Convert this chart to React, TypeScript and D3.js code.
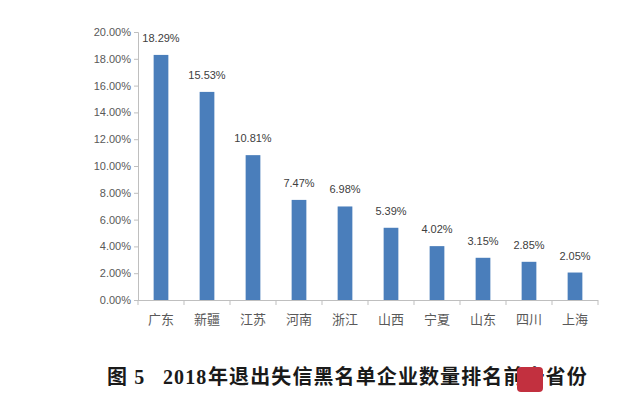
import React, { useEffect, useRef } from 'react';
import * as d3 from 'd3';

const provinces = ['广东', '新疆', '江苏', '河南', '浙江', '山西', '宁夏', '山东', '四川', '上海'];
const shares = [18.29, 15.53, 10.81, 7.47, 6.98, 5.39, 4.02, 3.15, 2.85, 2.05];
const yTicks = [0, 2, 4, 6, 8, 10, 12, 14, 16, 18, 20];
const captionParts = ['图 5', '2018', '年退出失信黑名单企业数量排名前十省份'];

const App = () => {
    const svgRef = useRef<SVGSVGElement>(null);

    useEffect(() => {
        const svg = d3.select(svgRef.current);
        svg.selectAll('*').remove();

        const W = 640;
        const H = 399;
        const left = 138, right = 598, top = 32, bottom = 300;

        svg.append('rect').attr('width', W).attr('height', H).attr('fill', '#fff');

        const x = d3.scaleBand().domain(provinces).range([left, right]).paddingInner(0.68).paddingOuter(0.34);
        const y = d3.scaleLinear().domain([0, 20]).range([bottom, top]);

        // y axis
        const yAxis = svg.append('g')
            .attr('transform', `translate(${left},0)`)
            .call(d3.axisLeft(y).tickValues(yTicks).tickSize(4).tickFormat(d => (d as number).toFixed(2) + '%'));
        yAxis.select('.domain').attr('stroke', '#bfbfbf');
        yAxis.selectAll('.tick line').attr('stroke', '#bfbfbf');
        yAxis.selectAll('.tick text')
            .attr('fill', '#595959')
            .attr('font-size', '11px')
            .attr('font-family', 'Liberation Sans, Arial, sans-serif')
            .attr('x', -7);

        // x axis with boundary ticks
        svg.append('line')
            .attr('x1', left).attr('x2', right)
            .attr('y1', bottom + 0.5).attr('y2', bottom + 0.5)
            .attr('stroke', '#bfbfbf');
        const bounds = d3.range(provinces.length + 1).map(i => left + i * x.step());
        svg.selectAll('.xtick').data(bounds).enter().append('line')
            .attr('x1', d => d).attr('x2', d => d)
            .attr('y1', bottom).attr('y2', bottom + 5)
            .attr('stroke', '#bfbfbf');

        svg.selectAll('.xlabel').data(provinces).enter().append('text')
            .attr('x', d => (x(d) as number) + x.bandwidth() / 2)
            .attr('y', bottom + 24)
            .attr('text-anchor', 'middle')
            .attr('fill', '#595959')
            .attr('font-size', '13px')
            .attr('font-family', 'Noto Sans CJK SC, sans-serif')
            .text(d => d);

        // bars
        svg.selectAll('.bar').data(shares).enter().append('rect')
            .attr('x', (d, i) => x(provinces[i]) as number)
            .attr('y', d => y(d))
            .attr('width', x.bandwidth())
            .attr('height', d => bottom - y(d))
            .attr('fill', '#4a7ebb');

        svg.selectAll('.val').data(shares).enter().append('text')
            .attr('x', (d, i) => (x(provinces[i]) as number) + x.bandwidth() / 2)
            .attr('y', d => y(d) - 13)
            .attr('text-anchor', 'middle')
            .attr('fill', '#404040')
            .attr('font-size', '11px')
            .attr('font-family', 'Liberation Sans, Arial, sans-serif')
            .text(d => d.toFixed(2) + '%');

        // caption
        const cap = svg.append('text')
            .attr('y', 384)
            .attr('fill', '#1a1a1a')
            .attr('font-size', '20px')
            .attr('letter-spacing', '1.1px')
            .attr('font-weight', 'bold')
            .attr('font-family', 'Liberation Serif, Noto Sans CJK SC, serif');
        const capX = [107, 163, 208];
        captionParts.forEach((t, i) => cap.append('tspan').attr('x', capX[i]).text(t));

        // watermark
        svg.append('rect')
            .attr('x', 517).attr('y', 367)
            .attr('width', 26).attr('height', 25)
            .attr('rx', 4)
            .attr('fill', '#c2303f');
    }, []);

    return (
        <div style={{ position: 'absolute', left: 0, top: 0 }}>
            <svg ref={svgRef} width={640} height={399} style={{ display: 'block' }}></svg>
        </div>
    );
};

export default App;
